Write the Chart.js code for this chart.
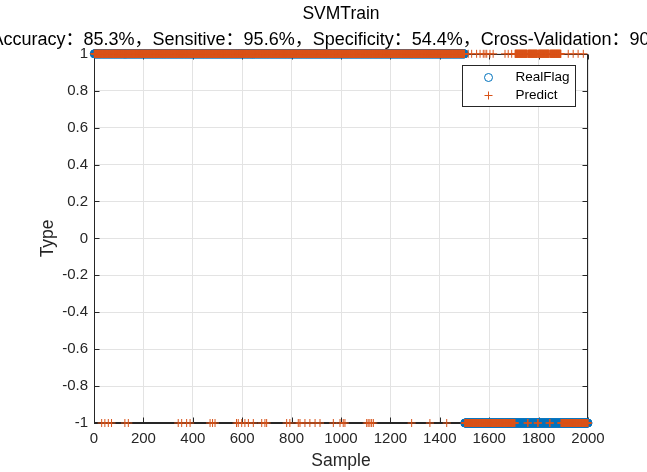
<!DOCTYPE html>
<html>
<head>
<meta charset="utf-8">
<script src="https://cdn.jsdelivr.net/npm/chart.js@4/dist/chart.umd.min.js"></script>
<style>
  html, body { margin: 0; padding: 0; background: #fff; }
</style>
</head>
<body>
<canvas id="chart" width="647" height="472"></canvas>
<script>
// --- data ---
const titleText = 'SVMTrain';
const statsText = 'Accuracy：85.3%，Sensitive：95.6%，Specificity：54.4%，Cross-Validation：90.12%';
const xTicks = [0, 200, 400, 600, 800, 1000, 1200, 1400, 1600, 1800, 2000];
const yTicks = [-1, -0.8, -0.6, -0.4, -0.2, 0, 0.2, 0.4, 0.6, 0.8, 1];

// [first sample, last sample, type]
const realFlagRuns = [[1, 1500, 1], [1501, 2000, -1]];
// class 1 samples that were predicted as -1
const positiveMissed = [31, 44, 58, 71, 125, 139, 341, 355, 375, 389, 470, 480, 490,
  577, 584, 598, 611, 625, 645, 679, 692, 699, 780, 793, 827, 834, 854, 874, 895, 915,
  969, 996, 1009, 1016, 1104, 1110, 1117, 1124, 1131, 1286, 1360, 1428];
// class -1 sample ranges that were predicted as 1
const negativeMissedRuns = [[1515, 1515], [1529, 1529], [1549, 1549], [1563, 1563],
  [1576, 1576], [1583, 1583], [1590, 1590], [1603, 1603], [1616, 1616], [1664, 1664],
  [1677, 1677], [1691, 1691], [1705, 1754], [1758, 1795], [1799, 1843], [1847, 1890],
  [1920, 1920], [1940, 1940], [1960, 1960], [1981, 1981]];

const blue = '#0072BD';
const orange = '#D95319';
const axisColor = '#262626';
const fontFamily = "'Liberation Sans', 'Noto Sans CJK SC', Arial, sans-serif";

const realFlag = [];
realFlagRuns.forEach(([a, b, t]) => {
  for (let i = a; i <= b; i++) realFlag.push({ x: i, y: t });
});
const missed = new Set(positiveMissed);
negativeMissedRuns.forEach(([a, b]) => {
  for (let i = a; i <= b; i++) missed.add(i);
});
const predict = realFlag.map(p => ({ x: p.x, y: missed.has(p.x) ? -p.y : p.y }));

Chart.defaults.font.family = fontFamily;

// MATLAB-like box with inward ticks
const axesBox = {
  id: 'axesBox',
  beforeDatasetsDraw(chart) {
    const { ctx, chartArea: a, scales: { x, y } } = chart;
    const l = Math.round(a.left) + 0.5, r = Math.round(a.right) - 0.5;
    const t = Math.round(a.top) + 0.5, b = Math.round(a.bottom) - 0.5;
    ctx.save();
    ctx.strokeStyle = axisColor;
    ctx.lineWidth = 1;
    ctx.strokeRect(l, t, r - l, b - t);
    ctx.beginPath();
    xTicks.forEach(v => {
      const px = Math.round(x.getPixelForValue(v)) + 0.5;
      ctx.moveTo(px, b); ctx.lineTo(px, b - 5);
      ctx.moveTo(px, t); ctx.lineTo(px, t + 5);
    });
    yTicks.forEach(v => {
      const py = Math.round(y.getPixelForValue(v)) + 0.5;
      ctx.moveTo(l, py); ctx.lineTo(l + 5, py);
      ctx.moveTo(r, py); ctx.lineTo(r - 5, py);
    });
    ctx.stroke();
    ctx.restore();
  }
};

// second title line, drawn unsqueezed (it is wider than the canvas, as in the original)
const statsLine = {
  id: 'statsLine',
  afterDraw(chart) {
    const { ctx, chartArea: a } = chart;
    ctx.save();
    ctx.font = '18px ' + fontFamily;
    ctx.textAlign = 'center';
    ctx.textBaseline = 'middle';
    ctx.fillStyle = '#000';
    ctx.fillText(statsText, (a.left + a.right) / 2, a.top - 14);
    ctx.restore();
  }
};

// legend box inside the plot, top right
const insideLegend = {
  id: 'insideLegend',
  afterDraw(chart) {
    const { ctx, chartArea: a } = chart;
    const w = 113, h = 41;
    const bx = Math.round(a.right - 13 - w) + 0.5, by = Math.round(a.top + 11) + 0.5;
    ctx.save();
    ctx.fillStyle = '#fff';
    ctx.fillRect(bx, by, w, h);
    ctx.strokeStyle = axisColor;
    ctx.lineWidth = 1;
    ctx.strokeRect(bx, by, w, h);
    ctx.font = '13.5px ' + fontFamily;
    ctx.textBaseline = 'middle';
    ctx.fillStyle = '#000';
    chart.data.datasets.forEach((ds, i) => {
      const cy = by + 12 + i * 18;
      const mx = bx + 26;
      ctx.strokeStyle = ds.borderColor;
      ctx.beginPath();
      if (ds.pointStyle === 'circle') {
        ctx.arc(mx, cy, 4, 0, Math.PI * 2);
      } else {
        ctx.moveTo(mx - 4, cy); ctx.lineTo(mx + 4, cy);
        ctx.moveTo(mx, cy - 4); ctx.lineTo(mx, cy + 4);
      }
      ctx.stroke();
      ctx.fillText(ds.label, bx + 53, cy);
    });
    ctx.restore();
  }
};

new Chart(document.getElementById('chart'), {
  type: 'scatter',
  data: {
    datasets: [
      {
        label: 'RealFlag',
        data: realFlag,
        pointStyle: 'circle',
        radius: 4,
        borderWidth: 1,
        borderColor: blue,
        backgroundColor: 'rgba(0,0,0,0)',
        clip: false,
        order: 2
      },
      {
        label: 'Predict',
        data: predict,
        pointStyle: 'cross',
        radius: 4,
        borderWidth: 1,
        borderColor: orange,
        backgroundColor: orange,
        clip: false,
        order: 1
      }
    ]
  },
  options: {
    responsive: false,
    animation: false,
    events: [],
    layout: { padding: { left: 0, right: 59, top: 0, bottom: 0 } },
    scales: {
      x: {
        type: 'linear',
        min: 0,
        max: 2000,
        afterBuildTicks: s => { s.ticks = xTicks.map(v => ({ value: v })); },
        afterFit: s => { s.height = 49; },
        ticks: {
          color: axisColor, font: { size: 15 }, padding: 6.5, maxRotation: 0, autoSkip: false,
          callback: v => String(v)
        },
        grid: { color: '#e3e3e3', drawTicks: false },
        border: { display: true, color: axisColor },
        title: { display: true, text: 'Sample', color: axisColor, font: { size: 17.5 }, padding: { top: 0, bottom: 0.5 } }
      },
      y: {
        type: 'linear',
        min: -1,
        max: 1,
        afterBuildTicks: s => { s.ticks = yTicks.map(v => ({ value: v })); },
        afterFit: s => { s.width = 94; },
        ticks: {
          color: axisColor, font: { size: 15 }, padding: 6, autoSkip: false,
          callback: v => String(Number(v.toFixed(1)))
        },
        grid: { color: '#e3e3e3', drawTicks: false },
        border: { display: true, color: axisColor },
        title: { display: true, text: 'Type', color: axisColor, font: { size: 17.5 }, padding: { top: 37.5, bottom: 0 } }
      }
    },
    plugins: {
      legend: { display: false },
      tooltip: { enabled: false },
      title: {
        display: true,
        text: titleText,
        fullSize: false,
        color: '#000',
        font: { size: 17.5, weight: 'normal' },
        padding: { top: 4, bottom: 2 }
      },
      // reserves the room for the stats line, which statsLine draws
      subtitle: {
        display: true,
        text: ' ',
        fullSize: false,
        color: 'rgba(0,0,0,0)',
        font: { size: 18, weight: 'normal' },
        padding: { top: 2, bottom: 3.2 }
      }
    }
  },
  plugins: [axesBox, statsLine, insideLegend]
});
</script>
</body>
</html>
